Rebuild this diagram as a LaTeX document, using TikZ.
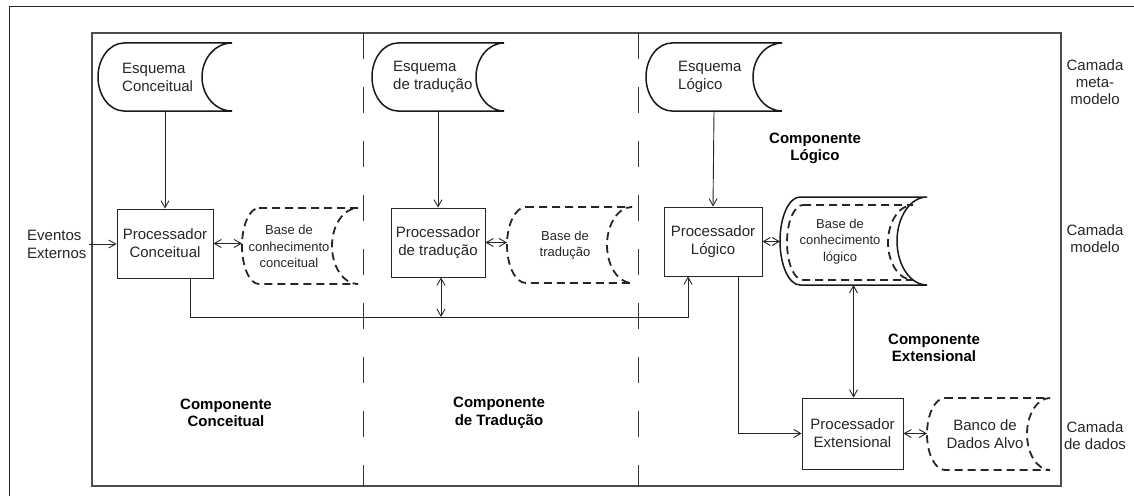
\documentclass[tikz,border=0pt]{standalone}
\usepackage{fontspec}
\setmainfont{Liberation Sans}
\usetikzlibrary{arrows.meta,fit}

% Stored-data outline: convex left side, concave right side.
% #1 style, #2 name, #3 x1, #4 y1 (top), #5 x2, #6 y2 (bottom), #7 left depth, #8 right depth
\newcommand\storedata[8][]{%
  \coordinate (#2-nw) at (#3,#4);
  \coordinate (#2-se) at (#5,#6);
  \node[fit=(#2-nw)(#2-se), inner sep=0pt, outer sep=0pt] (#2) {};
  \draw[#1] ({#3+#7},#4) -- (#5,#4)
    .. controls ({#5-0.552*#8},#4) and ({#5-#8},{(#4+#6)/2-0.276*(#6-#4)}) .. ({#5-#8},{(#4+#6)/2})
    .. controls ({#5-#8},{(#4+#6)/2+0.276*(#6-#4)}) and ({#5-0.552*#8},#6) .. (#5,#6)
    -- ({#3+#7},#6)
    .. controls ({#3+0.448*#7},#6) and (#3,{(#4+#6)/2+0.276*(#6-#4)}) .. (#3,{(#4+#6)/2})
    .. controls (#3,{(#4+#6)/2-0.276*(#6-#4)}) and ({#3+0.448*#7},#4) .. ({#3+#7},#4) -- cycle;
}

\begin{document}
\begin{tikzpicture}[x=1pt,y=-1pt,
  >={Straight Barb[length=7pt,width=8pt]},
  conn/.style={line width=0.9pt, draw=black!85},
  schema/.style={line width=1.5pt, draw=black!90},
  kbase/.style={line width=1.8pt, draw=black!85, dash pattern=on 8pt off 5pt},
  procbox/.style={draw=black!85, line width=0.9pt, align=center, inner sep=0pt,
    font=\fontsize{15}{18}\selectfont, text=black!85},
  plain/.style={font=\fontsize{15}{18}\selectfont, text=black!85, inner sep=0pt},
  small/.style={font=\fontsize{13}{16.5}\selectfont, text=black!85, inner sep=0pt, align=center},
  comp/.style={font=\fontsize{15}{17.5}\selectfont\bfseries, text=black, inner sep=0pt, align=center},
  layer/.style={font=\fontsize{15}{17}\selectfont, text=black!85, inner sep=0pt, align=center},
  divider/.style={line width=1pt, draw=black!80, dash pattern=on 26pt off 28pt}
]
\useasboundingbox (0,0) rectangle (1134,495);
\clip (0,0) rectangle (1134,495);

% frames
\draw[line width=1pt, black!85] (9,505) -- (9,7) -- (1145,7);
\draw[line width=1.2pt, black!70] (92,33) rectangle (1061,486);
\draw[divider] (363,33) -- (363,486);
\draw[divider] (638,33) -- (638,486);

% schemas (meta-model layer)
\storedata[schema]{esqC}{98}{43}{232}{111}{26}{30}
\storedata[schema]{esqT}{372}{43}{504}{111}{26}{28}
\storedata[schema]{esqL}{646}{43}{782}{111}{26}{29}
\node[plain, anchor=west, align=left] (esqCtxt) at (122,77) {Esquema\\Conceitual};
\node[plain, anchor=west, align=left] (esqTtxt) at (393,77) {Esquema\\de tradução};
\node[plain, anchor=west, align=left] (esqLtxt) at (678,77) {Esquema\\Lógico};

% processors
\node[procbox, minimum width=96pt, minimum height=69pt] (procC) at (165,243.5) {Processador\\Conceitual};
\node[procbox, minimum width=94pt, minimum height=69pt] (procT) at (438,242.5) {Processador\\de tradução};
\node[procbox, minimum width=98pt, minimum height=69pt] (procL) at (713,241.5) {Processador\\Lógico};
\node[procbox, minimum width=101pt, minimum height=71pt] (procE) at (852.5,433.5) {Processador\\Extensional};

% knowledge bases
\storedata[kbase]{baseC}{242}{208}{358}{284}{17}{26}
\storedata[kbase]{baseT}{507}{207}{632}{283}{19}{25}
\storedata[schema]{baseL}{780}{197}{927}{285}{20}{30}
\storedata[kbase]{baseLin}{787}{205}{913}{280}{16}{25}
\storedata[kbase]{banco}{927}{398}{1050}{470}{18}{23}
\node[small] (baseCtxt) at (289,246.5) {Base de\\conhecimento\\conceitual};
\node[small] (baseTtxt) at (565,245) {Base de\\tradução};
\node[small] (baseLtxt) at (840,241.5) {Base de\\conhecimento\\lógico};
\node[plain, align=center] (bancotxt) at (985,434) {Banco de\\Dados Alvo};

% external input
\node[plain, anchor=west, align=left] (ev) at (27,244) {Eventos\\Externos};

% component labels
\node[comp] (compL) at (815,148.5) {Componente\\Lógico};
\node[comp] (compE) at (934,348) {Componente\\Extensional};
\node[comp] (compC) at (226,413) {Componente\\Conceitual};
\node[comp] (compT) at (499,413) {Componente\\de Tradução};

% layer labels
\node[layer] (layMeta) at (1095,82) {Camada\\meta-\\modelo};
\node[layer] (layModel) at (1095,239) {Camada\\modelo};
\node[layer] (layData) at (1095,436) {Camada\\de dados};

% connectors
\draw[conn,->] (esqC.south) -- (procC.north);
\draw[conn,->] (esqT.south) -- (procT.north);
\draw[conn,->] (esqL.south) -- (procL.north);
\draw[conn,->] ([xshift=2pt]ev.east) -- (ev.east -| procC.west);
\draw[conn,<->] (procC.east) -- (procC.east -| baseC.west);
\draw[conn,<->] (procT.east) -- (procT.east -| baseT.west);
\draw[conn,<->] (procL.east) -- (procL.east -| baseL.west);

\coordinate (busA) at (190,317);
\coordinate (busB) at (688,317);
\draw[conn,->] (procC.south -| busA) -- (busA) -- (busB) -- (procL.south -| busB);
\draw[conn,<->] ([xshift=3pt]procT.south) -- ([xshift=3pt]procT.south |- busA);

\coordinate (turnE) at (738,433.5);
\draw[conn,->] (procL.south -| turnE) -- (turnE) -- (procE.west);
\draw[conn,<->] (baseL.south) -- (baseL.south |- procE.north);
\draw[conn,<->] (procE.east) -- (procE.east -| banco.west);
\end{tikzpicture}
\end{document}
